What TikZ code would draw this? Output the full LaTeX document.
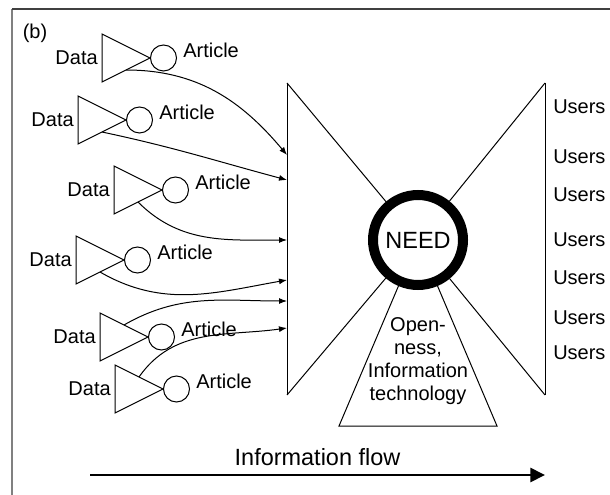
\documentclass[tikz,border=0pt]{standalone}
\usepackage{fontspec}
\setmainfont{Liberation Sans}
\usetikzlibrary{arrows.meta,calc}

\begin{document}
\begin{tikzpicture}[x=0.75pt, y=0.75pt, font=\fontsize{15}{17.25}\selectfont,
        thinline/.style={line width=0.75pt},
        article/.style={draw, thinline, circle, minimum size=19.5pt, inner sep=0pt, anchor=west},
        feed/.style={thinline, -{Latex[length=6pt,width=4.5pt]}},
        big/.style={font=\fontsize{17.6}{20}\selectfont}]
    \useasboundingbox (0,0) rectangle (610,-495);
    % frame (only top and left edge visible)
    \draw[black!50, line width=1.5pt] (12,-495) -- (12,-9);
    \draw[black!75, line width=1.5pt] (12,-9) -- (610,-9);
    \node (label) at (35,-33) {(b)};

    % Data -> Article producers
    \foreach \i/\ax/\ay in {1/150/58, 2/126/120, 3/162/190, 4/124/260, 5/148/337, 6/163/389} {
        \coordinate (apex\i) at (\ax,-\ay);
        \coordinate (top\i) at ($(apex\i)+(-48,24)$);
        \coordinate (bot\i) at ($(apex\i)+(-48,-24)$);
        \draw[thinline] (top\i) -- (apex\i) -- (bot\i) -- cycle;
        \node[article] (art\i) at (apex\i) {};
        \node[anchor=east, inner sep=3pt] (data\i) at ($(top\i)!0.5!(bot\i)$) {Data};
        \node[anchor=west, inner sep=0pt] (arttext\i) at ($(apex\i)+(33,8)$) {Article};
    }

    % the hourglass round the need
    \node[draw, circle, line width=7.5pt, minimum size=67.5pt, inner sep=0pt, fill=white, big] (need) at (418,-240) {NEED};
    \coordinate (lt) at (287,-83);
    \coordinate (lb) at (287,-395);
    \coordinate (rt) at (545,-83);
    \coordinate (rb) at (545,-395);
    \draw[thinline] (lt) -- (lb);
    \draw[thinline] (rt) -- (rb);
    \draw[thinline] (lt) -- (need);
    \draw[thinline] (lb) -- (need);
    \draw[thinline] (rt) -- (need);
    \draw[thinline] (rb) -- (need);

    % openness trapezoid
    \coordinate (ol) at (339,-426);
    \coordinate (or) at (497,-426);
    \draw[thinline] (need) -- (ol) -- (or) -- (need);
    \node[align=center, inner sep=0pt] (open) at (418,-361) {Open-\\ness,\\Information\\technology};

    % users
    \foreach \j/\uy in {1/107, 2/157, 3/195, 4/240, 5/278, 6/318, 7/353}
        \node[anchor=west, inner sep=0pt] (user\j) at (553,-\uy) {Users};

    % articles flowing in
    \coordinate (in1) at (287,-155);
    \coordinate (in2) at (287,-180);
    \coordinate (in3) at (287,-240);
    \coordinate (in4) at (287,-280);
    \coordinate (in5) at (287,-301);
    \coordinate (in6) at (287,-328);
    \draw[feed] ($(bot1)!0.5!(apex1)$) to[out=0, in=130] (in1);
    \draw[feed] ($(bot2)!0.5!(apex2)$) to[out=-12, in=165] (in2);
    \draw[feed] ($(bot3)!0.5!(apex3)$) to[out=-45, in=180] (in3);
    \draw[feed] ($(bot4)!0.5!(apex4)$) to[out=-30, in=190] (in4);
    \draw[feed] ($(top5)!0.5!(apex5)$) to[out=30, in=180] (in5);
    \draw[feed] ($(top6)!0.5!(apex6)$) to[out=55, in=188] (in6);

    % information flow
    \coordinate (flowstart) at (90,-475);
    \coordinate (flowend) at (545,-475);
    \draw[line width=2pt, -{Triangle[length=11pt,width=10.5pt]}] (flowstart) -- (flowend)
        node[midway, above, inner sep=6pt, big] (flow) {Information flow};
\end{tikzpicture}
\end{document}
